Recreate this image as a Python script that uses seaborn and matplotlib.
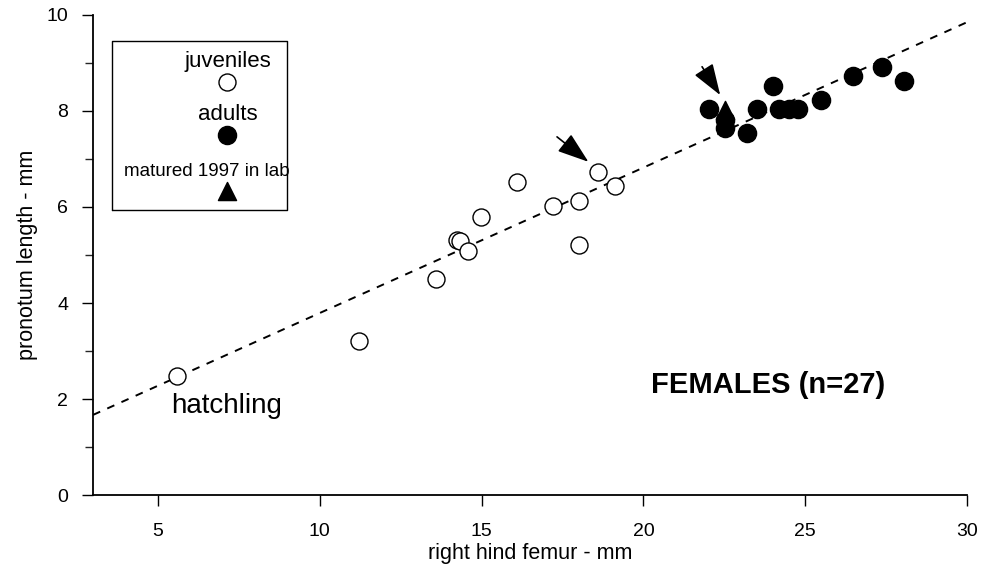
import numpy as np
import pandas as pd
import matplotlib.pyplot as plt
import seaborn as sns
from matplotlib.ticker import MultipleLocator

plt.switch_backend("Agg")

# --- data ---
juv_femur = [5.6, 11.2, 13.6, 14.24, 14.33, 14.58, 14.98, 16.09, 17.2, 18.0, 18.0, 18.6, 19.12]
juv_pronotum = [2.48, 3.2, 4.5, 5.31, 5.3, 5.08, 5.8, 6.52, 6.02, 6.12, 5.2, 6.73, 6.43]

adult_femur = [22.03, 22.52, 22.52, 23.2, 23.5, 24.0, 24.19, 24.5, 24.78, 25.49, 26.48, 27.37, 28.05]
adult_pronotum = [8.04, 7.81, 7.64, 7.54, 8.04, 8.52, 8.04, 8.04, 8.04, 8.23, 8.73, 8.92, 8.62]

lab_femur = [22.52]
lab_pronotum = [8.02]

fit_x = [3.0, 30.0]
fit_y = [1.67, 9.85]

df_juv = pd.DataFrame({"femur": juv_femur, "pronotum": juv_pronotum})
df_ad = pd.DataFrame({"femur": adult_femur, "pronotum": adult_pronotum})
df_lab = pd.DataFrame({"femur": lab_femur, "pronotum": lab_pronotum})

sns.set_style("ticks")
plt.rcParams["font.family"] = ["Liberation Sans", "DejaVu Sans"]
plt.rcParams["text.color"] = "black"
plt.rcParams["axes.labelcolor"] = "black"

fig = plt.figure(figsize=(9.9, 5.73), dpi=100)
ax = fig.add_axes([0.094, 0.136, 0.883, 0.838])

# regression line
ax.plot(fit_x, fit_y, color="black", linestyle=(0, (4, 4)), lw=1.4, zorder=1)

sns.scatterplot(data=df_juv, x="femur", y="pronotum", ax=ax, marker="o",
                s=150, facecolor="white", edgecolor="black", linewidth=1.0, zorder=3)
sns.scatterplot(data=df_ad, x="femur", y="pronotum", ax=ax, marker="o",
                s=170, color="black", edgecolor="black", zorder=3)
sns.scatterplot(data=df_lab, x="femur", y="pronotum", ax=ax, marker="^",
                s=170, color="black", edgecolor="black", zorder=4)

# arrows pointing at the two moulting individuals
arrow_kw = dict(arrowstyle="-|>,head_length=1.3,head_width=0.45", color="black",
                lw=1.2, mutation_scale=15, shrinkA=0, shrinkB=0)
ax.annotate("", xy=(18.3, 6.94), xytext=(17.33, 7.46), arrowprops=arrow_kw)
ax.annotate("", xy=(22.37, 8.33), xytext=(21.81, 8.92), arrowprops=arrow_kw)

# texts
ax.text(5.4, 1.85, "hatchling", fontsize=20, ha="left", va="center")
ax.text(23.85, 2.3, "FEMALES (n=27)", fontsize=21, fontweight="bold", ha="center", va="center")

# legend box drawn by hand
lx0, lx1, ly0, ly1 = 3.58, 8.99, 5.94, 9.46
ax.plot([lx0, lx1, lx1, lx0, lx0], [ly0, ly0, ly1, ly1, ly0], color="black", lw=1.0, zorder=2)
lcx = 7.15
ax.text(lcx, 9.02, "juveniles", fontsize=16, ha="center", va="center")
ax.scatter([lcx], [8.6], s=150, facecolor="white", edgecolor="black", linewidth=1.0)
ax.text(lcx, 7.92, "adults", fontsize=16, ha="center", va="center")
ax.scatter([lcx], [7.5], s=170, color="black")
ax.text(6.51, 6.73, "matured 1997 in lab", fontsize=13.5, ha="center", va="center")
ax.scatter([lcx], [6.33], s=170, color="black", marker="^")

ax.set_xlim(3, 30)
ax.set_ylim(0, 10)
ax.set_xticks([5, 10, 15, 20, 25, 30])
ax.set_yticks([0, 2, 4, 6, 8, 10])
ax.yaxis.set_minor_locator(MultipleLocator(1))
ax.tick_params(axis="both", which="major", length=8, width=1, labelsize=14,
               colors="black", labelcolor="black")
ax.tick_params(axis="y", which="minor", length=6, width=1)
ax.tick_params(axis="y", pad=10)
ax.tick_params(axis="x", pad=12)

ax.set_xlabel("right hind femur - mm", fontsize=15.5, labelpad=2)
ax.set_ylabel("pronotum length - mm", fontsize=15.5, labelpad=6)

for s in ["top", "right"]:
    ax.spines[s].set_visible(False)
for s in ["left", "bottom"]:
    ax.spines[s].set_linewidth(1.3)
    ax.spines[s].set_color("black")

fig.savefig("out.png", dpi=100)
plt.close(fig)
